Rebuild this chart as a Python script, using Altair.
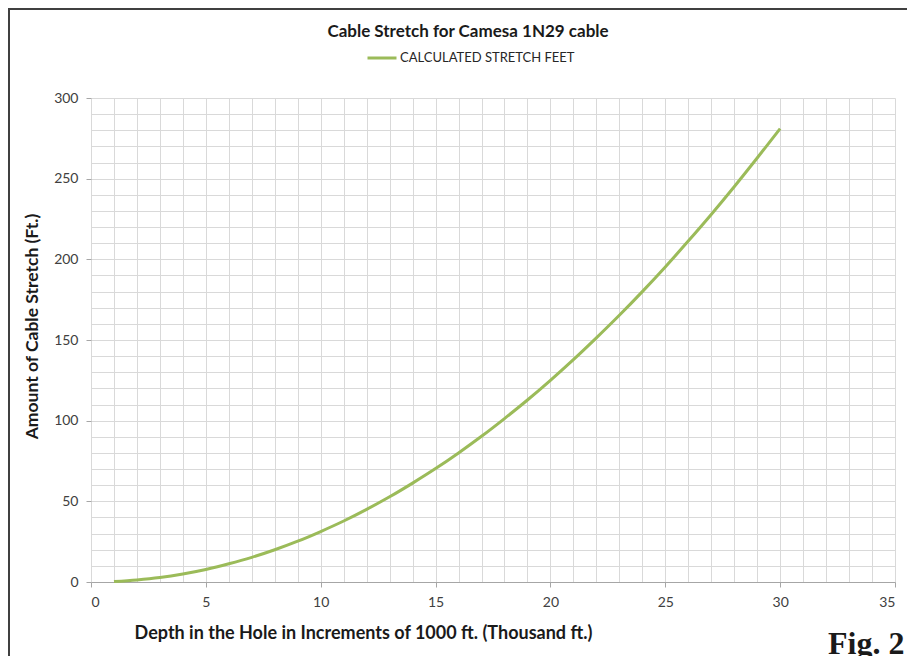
import altair as alt
import pandas as pd

# ---- data ----
depth = list(range(1, 31))
stretch = [0.3, 1.3, 2.8, 5.0, 7.8, 11.3, 15.3, 20.0, 25.3, 31.3,
           37.8, 45.0, 52.8, 61.3, 70.3, 80.0, 90.3, 101.3, 112.8, 125.0,
           137.8, 151.3, 165.3, 180.0, 195.3, 211.3, 227.8, 245.0, 262.8, 281.0]
series = ["CALCULATED STRETCH FEET"] * len(depth)
x_ticks = list(range(0, 36))
y_ticks = list(range(0, 301, 10))
chart_title = ["Cable Stretch for Camesa 1N29 cable"]
fig_label = ["Fig. 2"]

df = pd.DataFrame({"depth": depth, "stretch": stretch, "series": series})

W, H = 804, 484
FONT = "Lato"
GRID = "#d9d9d9"
AXIS = "#a6a6a6"

frame = alt.Chart(pd.DataFrame({"k": [0]})).mark_rect(
    filled=False, stroke="#404040", strokeWidth=2
).encode(
    x=alt.value(-82), x2=alt.value(W + 200),
    y=alt.value(-89), y2=alt.value(H + 200),
)

line = alt.Chart(df).mark_line(strokeWidth=3, interpolate="monotone").encode(
    x=alt.X(
        "depth:Q",
        scale=alt.Scale(domain=[0, 35], nice=False, zero=False),
        axis=alt.Axis(
            values=x_ticks,
            labelExpr="datum.value % 5 === 0 ? datum.label : ''",
            tickOpacity={"condition": {"test": "datum.value % 5 === 0", "value": 1}, "value": 0},
            title="Depth in the Hole in Increments of 1000 ft. (Thousand ft.)",
            titleX=272, titleY=51, titleAlign="center", titleBaseline="middle",
            titleFontSize=18,
            domain=True, domainColor=AXIS, tickColor=AXIS, tickSize=5,
            labelPadding=8, grid=True, gridColor=GRID,
        ),
    ),
    y=alt.Y(
        "stretch:Q",
        scale=alt.Scale(domain=[0, 300], nice=False),
        axis=alt.Axis(
            values=y_ticks,
            labelExpr="datum.value % 50 === 0 ? datum.label : ''",
            tickOpacity={"condition": {"test": "datum.value % 50 === 0", "value": 1}, "value": 0},
            title="Amount of Cable Stretch (Ft.)",
            titleX=-59, titleY=228, titleAngle=-90, titleAlign="center", titleBaseline="middle",
            titleFontSize=17.5,
            domain=False, tickColor=AXIS, tickSize=5,
            labelPadding=8, grid=True, gridColor=GRID,
        ),
    ),
    color=alt.Color(
        "series:N",
        scale=alt.Scale(range=["#9BBB59"]),
        legend=alt.Legend(
            title=None, orient="none", legendX=275, legendY=-56,
            symbolType="stroke", symbolSize=841, symbolStrokeWidth=3,
            labelFont=FONT, labelFontSize=13, labelColor="#262626",
            labelOffset=2, labelLimit=0,
        ),
    ),
)

title = alt.Chart(pd.DataFrame({"label": chart_title})).mark_text(
    font=FONT, fontSize=17, fontWeight="bold", align="center",
    baseline="alphabetic", color="#1a1a1a",
).encode(text="label:N", x=alt.value(377), y=alt.value(-61))

fig = alt.Chart(pd.DataFrame({"label": fig_label})).mark_text(
    font="Liberation Serif", fontSize=32, fontWeight="bold", align="left",
    baseline="alphabetic", color="#1a1a1a",
).encode(text="label:N", x=alt.value(737), y=alt.value(556))

chart = alt.layer(frame, line, title, fig).properties(
    width=W, height=H,
    background="white",
    autosize=alt.AutoSizeParams(type="none"),
    padding={"left": 83, "top": 90, "right": 12, "bottom": 74},
).configure_axis(
    labelFont=FONT, labelFontSize=14, labelColor="#404040",
    titleFont=FONT, titleFontWeight="bold", titleColor="#1a1a1a",
).configure_view(stroke=None)

chart.save("out.html", embed_options={"renderer": "svg", "actions": False})
